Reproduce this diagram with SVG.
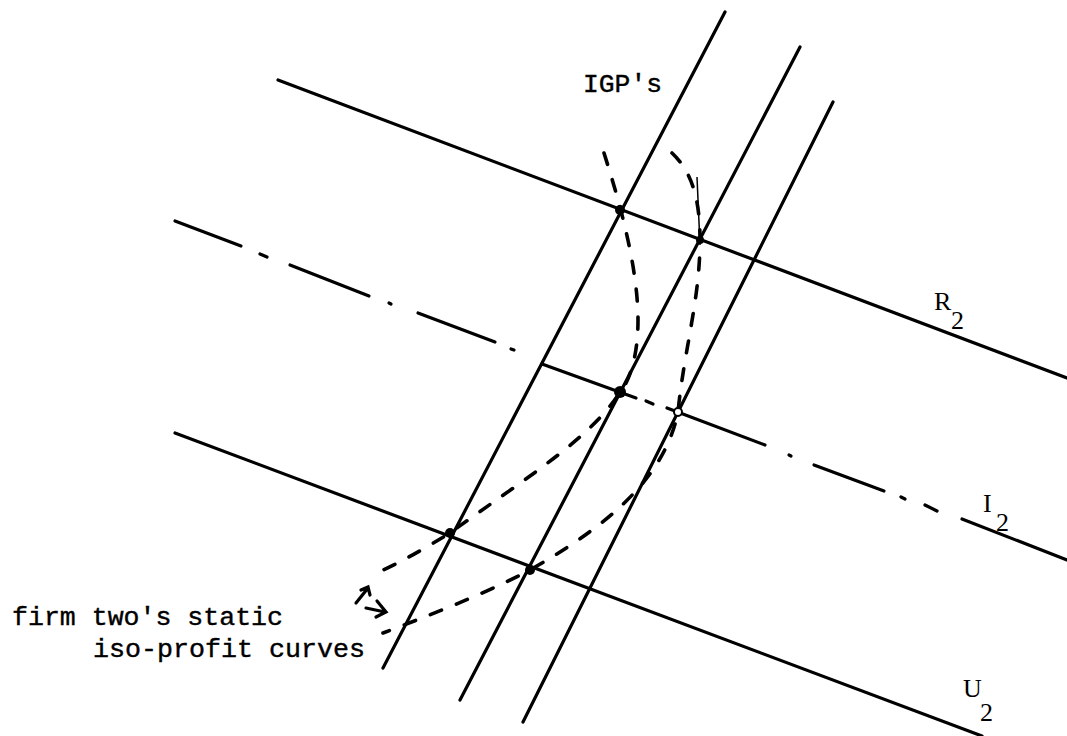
<svg xmlns="http://www.w3.org/2000/svg" width="1067" height="736" viewBox="0 0 1067 736">
<style>
.ln{stroke:#000;stroke-width:3.2;fill:none;stroke-linecap:round}
.dash{stroke:#000;stroke-width:3.6;fill:none;stroke-linecap:round;stroke-dasharray:12 16}
.thin{stroke:#000;stroke-width:1.5;fill:none}
.mono{font-family:"Liberation Mono","Courier New",monospace;font-size:26px;fill:#000;stroke:#000;stroke-width:0.4}
.lab{font-family:"Liberation Serif","Times New Roman",serif;font-size:26px;fill:#000}
.dot{fill:#000}
</style>
<rect width="1067" height="736" fill="#fff"/>
<g id="connectors">
  <line id="R2" class="ln" x1="278" y1="80" x2="1067" y2="378"/>
  <line id="U2" class="ln" x1="175" y1="433" x2="982" y2="736"/>
  <g id="I2">
    <line class="ln" x1="175" y1="221" x2="241" y2="246"/>
    <line class="ln" x1="260" y1="254" x2="267" y2="257"/>
    <line class="ln" x1="290" y1="265" x2="369" y2="296"/>
    <line class="ln" x1="389" y1="303" x2="391" y2="304"/>
    <line class="ln" x1="418" y1="313" x2="495" y2="342"/>
    <line class="ln" x1="511" y1="349" x2="514" y2="350"/>
    <line class="ln" x1="542" y1="364" x2="636" y2="398"/>
    <line class="ln" x1="646" y1="401" x2="653" y2="404"/>
    <line class="ln" x1="667" y1="408" x2="765" y2="445"/>
    <line class="ln" x1="789" y1="455" x2="791" y2="456"/>
    <line class="ln" x1="814" y1="465" x2="884" y2="491"/>
    <line class="ln" x1="901" y1="497" x2="905" y2="499"/>
    <line class="ln" x1="925" y1="505" x2="937" y2="511"/>
    <line class="ln" x1="962" y1="519" x2="1067" y2="560"/>
  </g>
  <line id="IGP-A" class="ln" x1="725" y1="12" x2="383" y2="668"/>
  <line id="IGP-B" class="ln" x1="800" y1="47" x2="460" y2="700"/>
  <line id="IGP-C" class="ln" x1="833" y1="102" x2="523" y2="722"/>
  <line class="thin" x1="697" y1="177" x2="700" y2="245"/>
  <path id="curve1" class="dash" d="M604,153 C614,185 638,260 638,320 C638,360 628,383 620,392 C592,438 520,482 450,533 C425,548 405,560 383,570"/>
  <path id="curve2" class="dash" d="M672,153 C690,170 700,195 700,240 C700,300 684,350 678,412 C664,482 600,530 530,570 C480,596 430,615 383,633"/>
  <path class="ln" stroke-width="2.8" d="M356,603 L368,588 M361,590 L368,587 L370,595"/>
  <path class="ln" stroke-width="2.8" d="M366,608 L385,612 M377,601 L386,612 L376,617"/>
</g>
<g id="points">
  <circle class="dot" cx="620" cy="210" r="5"/>
  <circle class="dot" cx="700" cy="240" r="4"/>
  <circle class="dot" cx="620" cy="392" r="6"/>
  <circle class="dot" cx="450" cy="533" r="5"/>
  <circle class="dot" cx="530" cy="570" r="5"/>
  <circle cx="678" cy="412" r="4" fill="#fff" stroke="#000" stroke-width="2"/>
</g>
<g id="labels">
  <text id="igp" class="mono" x="583" y="92" textLength="79" lengthAdjust="spacingAndGlyphs">IGP's</text>
  <text id="firm1" class="mono" x="12" y="625" textLength="271" lengthAdjust="spacingAndGlyphs">firm two's static</text>
  <text id="firm2" class="mono" x="93" y="657" textLength="272" lengthAdjust="spacingAndGlyphs">iso-profit curves</text>
  <g id="lbl-R2"><text class="lab" x="934" y="310">R</text><text class="lab" x="951" y="329">2</text></g>
  <g id="lbl-I2"><text class="lab" x="983" y="512">I</text><text class="lab" x="996" y="531">2</text></g>
  <g id="lbl-U2"><text class="lab" x="963" y="697">U</text><text class="lab" x="980" y="721">2</text></g>
</g>
</svg>
